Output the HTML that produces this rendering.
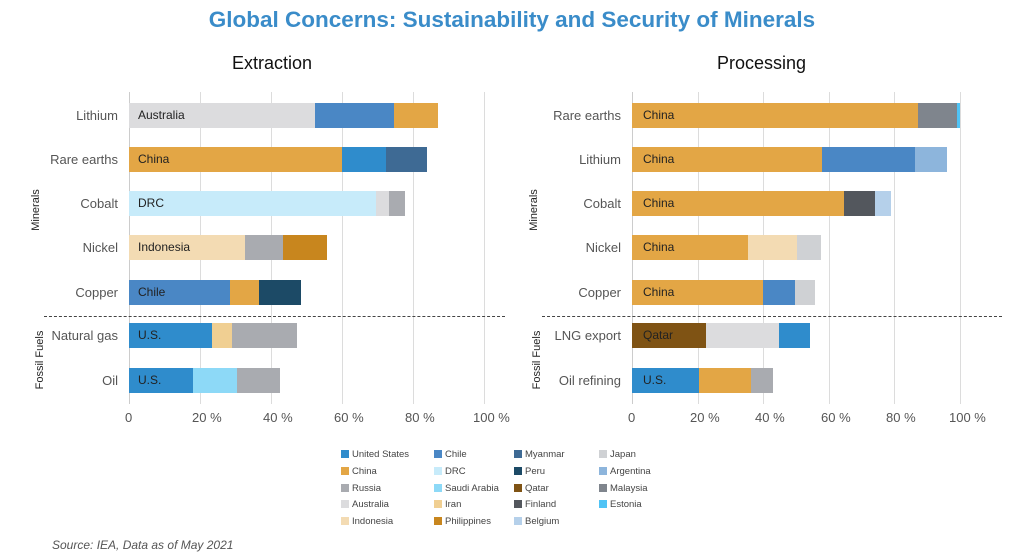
<!DOCTYPE html>
<html><head><style>
body{margin:0;width:1024px;height:555px;background:#fff;position:relative;overflow:hidden;font-family:"Liberation Sans",Arial,sans-serif}
.a{position:absolute}
.t{white-space:nowrap}
.g{position:absolute;width:1px;background:#dcdcdc}
.b{position:absolute;height:25px}
.bl{position:absolute;font-size:12px;color:#222;line-height:25px}
.cl{position:absolute;font-size:13px;color:#555;text-align:right;width:110px;line-height:25px}
.tk{position:absolute;font-size:13px;color:#555}
.lg{position:absolute;font-size:9.5px;color:#444;line-height:10px}
.lg i{display:inline-block;width:8px;height:8px;margin-right:3px;vertical-align:-1px}
</style></head><body>
<div class="a t" style="left:0;width:1024px;top:7px;text-align:center;font-size:22.5px;font-weight:bold;color:#3a8cc9">Global Concerns: Sustainability and Security of Minerals</div>
<div class="a t" style="left:232px;top:53px;font-size:18px;color:#111">Extraction</div>
<div class="a t" style="left:717px;top:53px;font-size:18px;color:#111">Processing</div>

<div class="g" style="left:129px;top:92px;height:312px;background:#ccc"></div>
<div class="g" style="left:200px;top:92px;height:312px"></div>
<div class="g" style="left:271px;top:92px;height:312px"></div>
<div class="g" style="left:342px;top:92px;height:312px"></div>
<div class="g" style="left:413px;top:92px;height:312px"></div>
<div class="g" style="left:484px;top:92px;height:312px"></div>
<div class="g" style="left:632px;top:92px;height:312px;background:#ccc"></div>
<div class="g" style="left:698px;top:92px;height:312px"></div>
<div class="g" style="left:763px;top:92px;height:312px"></div>
<div class="g" style="left:829px;top:92px;height:312px"></div>
<div class="g" style="left:894px;top:92px;height:312px"></div>
<div class="g" style="left:960px;top:92px;height:312px"></div>

<div class="b" style="top:103px;left:129px;width:186px;background:#dcdcde"></div>
<div class="b" style="top:103px;left:315px;width:79px;background:#4a87c5"></div>
<div class="b" style="top:103px;left:394px;width:44px;background:#e3a645"></div>
<div class="b" style="top:147px;left:129px;width:213px;background:#e3a645"></div>
<div class="b" style="top:147px;left:342px;width:44px;background:#2f8ccc"></div>
<div class="b" style="top:147px;left:386px;width:41px;background:#3e6a94"></div>
<div class="b" style="top:191px;left:129px;width:247px;background:#c7ebfa"></div>
<div class="b" style="top:191px;left:376px;width:13px;background:#dcdcde"></div>
<div class="b" style="top:191px;left:389px;width:16px;background:#a9abb0"></div>
<div class="b" style="top:235px;left:129px;width:116px;background:#f3dbb3"></div>
<div class="b" style="top:235px;left:245px;width:38px;background:#a9abb0"></div>
<div class="b" style="top:235px;left:283px;width:44px;background:#c8861e"></div>
<div class="b" style="top:280px;left:129px;width:101px;background:#4a87c5"></div>
<div class="b" style="top:280px;left:230px;width:29px;background:#e3a645"></div>
<div class="b" style="top:280px;left:259px;width:42px;background:#1c4a66"></div>
<div class="b" style="top:323px;left:129px;width:83px;background:#2f8ccc"></div>
<div class="b" style="top:323px;left:212px;width:20px;background:#f0cf92"></div>
<div class="b" style="top:323px;left:232px;width:65px;background:#a9abb0"></div>
<div class="b" style="top:368px;left:129px;width:64px;background:#2f8ccc"></div>
<div class="b" style="top:368px;left:193px;width:44px;background:#8dd9f7"></div>
<div class="b" style="top:368px;left:237px;width:43px;background:#a9abb0"></div>
<div class="bl" style="left:138px;top:103px">Australia</div>
<div class="bl" style="left:138px;top:147px">China</div>
<div class="bl" style="left:138px;top:191px">DRC</div>
<div class="bl" style="left:138px;top:235px">Indonesia</div>
<div class="bl" style="left:138px;top:280px">Chile</div>
<div class="bl" style="left:138px;top:323px">U.S.</div>
<div class="bl" style="left:138px;top:368px">U.S.</div>
<div class="cl" style="left:8px;top:103px">Lithium</div>
<div class="cl" style="left:8px;top:147px">Rare earths</div>
<div class="cl" style="left:8px;top:191px">Cobalt</div>
<div class="cl" style="left:8px;top:235px">Nickel</div>
<div class="cl" style="left:8px;top:280px">Copper</div>
<div class="cl" style="left:8px;top:323px">Natural gas</div>
<div class="cl" style="left:8px;top:368px">Oil</div>

<div class="b" style="top:103px;left:632px;width:286px;background:#e3a645"></div>
<div class="b" style="top:103px;left:918px;width:39px;background:#7f858d"></div>
<div class="b" style="top:103px;left:957px;width:3px;background:#4fc3f5"></div>
<div class="b" style="top:147px;left:632px;width:190px;background:#e3a645"></div>
<div class="b" style="top:147px;left:822px;width:93px;background:#4a87c5"></div>
<div class="b" style="top:147px;left:915px;width:32px;background:#8db5dc"></div>
<div class="b" style="top:191px;left:632px;width:212px;background:#e3a645"></div>
<div class="b" style="top:191px;left:844px;width:31px;background:#53575d"></div>
<div class="b" style="top:191px;left:875px;width:16px;background:#b5d0ea"></div>
<div class="b" style="top:235px;left:632px;width:116px;background:#e3a645"></div>
<div class="b" style="top:235px;left:748px;width:49px;background:#f3dbb3"></div>
<div class="b" style="top:235px;left:797px;width:24px;background:#cfd1d4"></div>
<div class="b" style="top:280px;left:632px;width:131px;background:#e3a645"></div>
<div class="b" style="top:280px;left:763px;width:32px;background:#4a87c5"></div>
<div class="b" style="top:280px;left:795px;width:20px;background:#cfd1d4"></div>
<div class="b" style="top:323px;left:632px;width:74px;background:#7f5314"></div>
<div class="b" style="top:323px;left:706px;width:73px;background:#dcdcde"></div>
<div class="b" style="top:323px;left:779px;width:31px;background:#2f8ccc"></div>
<div class="b" style="top:368px;left:632px;width:67px;background:#2f8ccc"></div>
<div class="b" style="top:368px;left:699px;width:52px;background:#e3a645"></div>
<div class="b" style="top:368px;left:751px;width:22px;background:#a9abb0"></div>
<div class="bl" style="left:643px;top:103px">China</div>
<div class="bl" style="left:643px;top:147px">China</div>
<div class="bl" style="left:643px;top:191px">China</div>
<div class="bl" style="left:643px;top:235px">China</div>
<div class="bl" style="left:643px;top:280px">China</div>
<div class="bl" style="left:643px;top:323px">Qatar</div>
<div class="bl" style="left:643px;top:368px">U.S.</div>
<div class="cl" style="left:511px;top:103px">Rare earths</div>
<div class="cl" style="left:511px;top:147px">Lithium</div>
<div class="cl" style="left:511px;top:191px">Cobalt</div>
<div class="cl" style="left:511px;top:235px">Nickel</div>
<div class="cl" style="left:511px;top:280px">Copper</div>
<div class="cl" style="left:511px;top:323px">LNG export</div>
<div class="cl" style="left:511px;top:368px">Oil refining</div>

<div class="a" style="left:44px;top:316px;width:461px;border-top:1.5px dashed #444"></div>
<div class="a" style="left:542px;top:316px;width:460px;border-top:1.5px dashed #444"></div>

<div class="a t" style="left:36px;top:210px;font-size:11px;color:#222;transform:translate(-50%,-50%) rotate(-90deg)">Minerals</div>
<div class="a t" style="left:40px;top:360px;font-size:11px;color:#222;transform:translate(-50%,-50%) rotate(-90deg)">Fossil Fuels</div>
<div class="a t" style="left:534px;top:210px;font-size:11px;color:#222;transform:translate(-50%,-50%) rotate(-90deg)">Minerals</div>
<div class="a t" style="left:537px;top:360px;font-size:11px;color:#222;transform:translate(-50%,-50%) rotate(-90deg)">Fossil Fuels</div>

<div class="tk" style="left:125px;top:410px">0</div>
<div class="tk" style="left:192px;top:410px">20 %</div>
<div class="tk" style="left:263px;top:410px">40 %</div>
<div class="tk" style="left:334px;top:410px">60 %</div>
<div class="tk" style="left:405px;top:410px">80 %</div>
<div class="tk" style="left:473px;top:410px">100 %</div>
<div class="tk" style="left:628px;top:410px">0</div>
<div class="tk" style="left:690px;top:410px">20 %</div>
<div class="tk" style="left:755px;top:410px">40 %</div>
<div class="tk" style="left:821px;top:410px">60 %</div>
<div class="tk" style="left:886px;top:410px">80 %</div>
<div class="tk" style="left:949px;top:410px">100 %</div>

<div class="lg t" style="left:341px;top:450px"><i style="background:#2f8ccc"></i>United States</div>
<div class="lg t" style="left:341px;top:467px"><i style="background:#e3a645"></i>China</div>
<div class="lg t" style="left:341px;top:484px"><i style="background:#a9abb0"></i>Russia</div>
<div class="lg t" style="left:341px;top:500px"><i style="background:#dcdcde"></i>Australia</div>
<div class="lg t" style="left:341px;top:517px"><i style="background:#f3dbb3"></i>Indonesia</div>
<div class="lg t" style="left:434px;top:450px"><i style="background:#4a87c5"></i>Chile</div>
<div class="lg t" style="left:434px;top:467px"><i style="background:#c7ebfa"></i>DRC</div>
<div class="lg t" style="left:434px;top:484px"><i style="background:#8dd9f7"></i>Saudi Arabia</div>
<div class="lg t" style="left:434px;top:500px"><i style="background:#f0cf92"></i>Iran</div>
<div class="lg t" style="left:434px;top:517px"><i style="background:#c8861e"></i>Philippines</div>
<div class="lg t" style="left:514px;top:450px"><i style="background:#3e6a94"></i>Myanmar</div>
<div class="lg t" style="left:514px;top:467px"><i style="background:#1c4a66"></i>Peru</div>
<div class="lg t" style="left:514px;top:484px"><i style="background:#7f5314"></i>Qatar</div>
<div class="lg t" style="left:514px;top:500px"><i style="background:#53575d"></i>Finland</div>
<div class="lg t" style="left:514px;top:517px"><i style="background:#b5d0ea"></i>Belgium</div>
<div class="lg t" style="left:599px;top:450px"><i style="background:#cfd1d4"></i>Japan</div>
<div class="lg t" style="left:599px;top:467px"><i style="background:#8db5dc"></i>Argentina</div>
<div class="lg t" style="left:599px;top:484px"><i style="background:#7f858d"></i>Malaysia</div>
<div class="lg t" style="left:599px;top:500px"><i style="background:#4fc3f5"></i>Estonia</div>

<div class="a t" style="left:52px;top:538px;font-size:12px;font-style:italic;color:#555">Source: IEA, Data as of May 2021</div>
</body></html>
